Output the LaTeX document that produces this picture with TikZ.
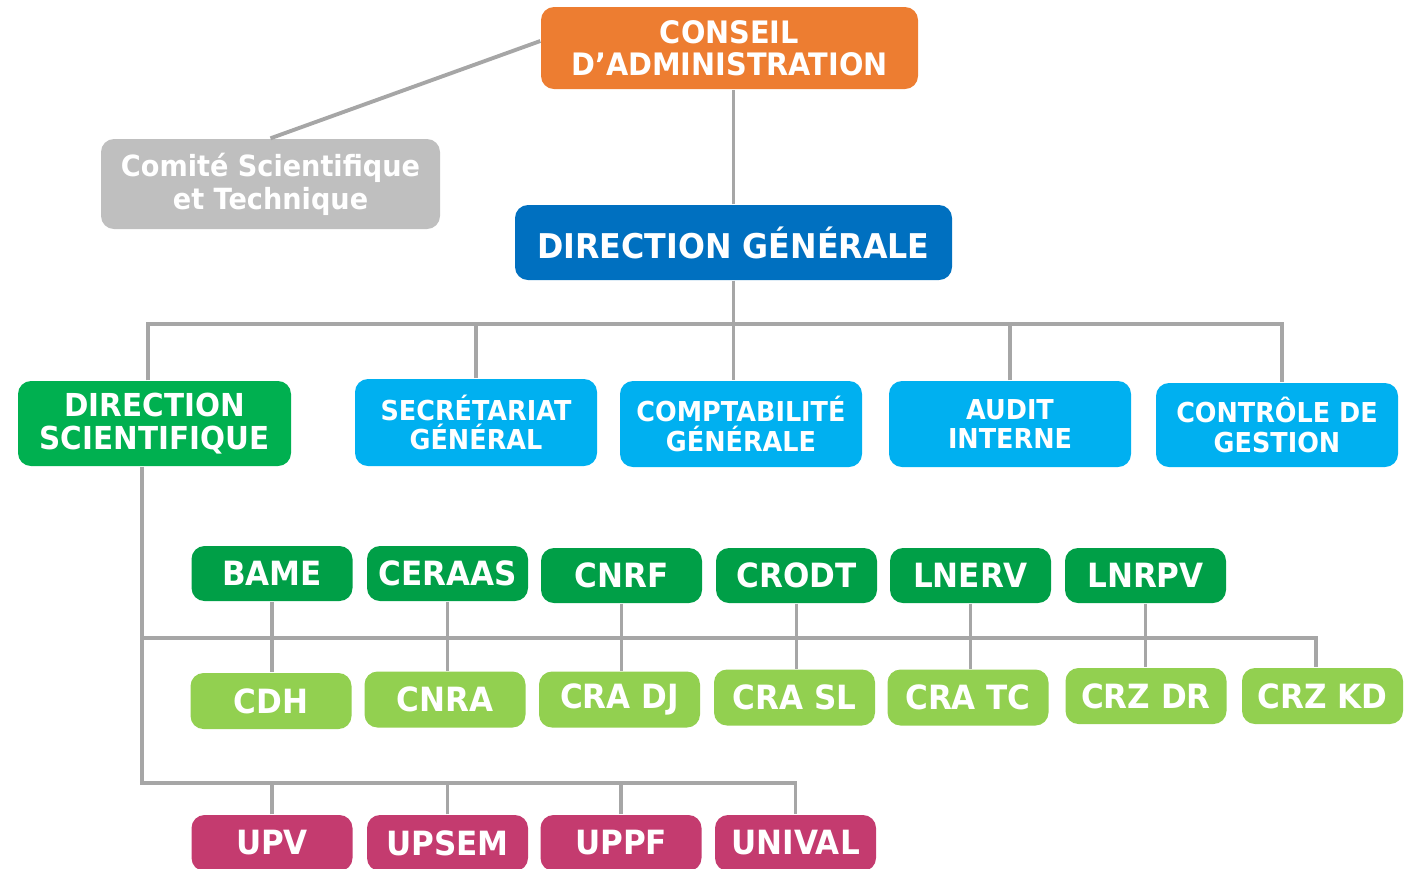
\documentclass[tikz,border=0pt]{standalone}
\usepackage{fontspec}
\setmainfont{DejaVu Sans}[FakeStretch=0.93]
\definecolor{conseil}{HTML}{ED7D31}
\definecolor{comite}{HTML}{BFBFBF}
\definecolor{dirgen}{HTML}{0070C0}
\definecolor{dirsci}{HTML}{00B050}
\definecolor{service}{HTML}{00B0F0}
\definecolor{centre}{HTML}{009F47}
\definecolor{antenne}{HTML}{92D050}
\definecolor{unite}{HTML}{C43B6F}
\definecolor{trait}{HTML}{A6A6A6}
\tikzset{box/.style={rounded corners=1.3mm, text=white, align=center, inner sep=0pt},
  link/.style={draw=trait, line width=1.1pt},
  unitbox/.style={box, minimum width=1.61cm, minimum height=.56cm, font=\bfseries\fontsize{9.5}{10}\selectfont}}

\begin{document}
\begin{tikzpicture}
      \useasboundingbox (0,0) rectangle (14.15,-8.68);
      % top
      \node[box, fill=conseil, minimum width=3.77cm, minimum height=.82cm, font=\bfseries\fontsize{8.8}{9.1}\selectfont] (ca) at (7.295,-.48) {CONSEIL\\D’ADMINISTRATION};
      \node[box, fill=comite, minimum width=3.39cm, minimum height=.90cm, font=\bfseries\fontsize{8.3}{9.4}\selectfont] (cst) at (2.705,-1.84) {Comité Scientifique\\et Technique};
      \node[box, fill=dirgen, minimum width=4.37cm, minimum height=.75cm, font=\bfseries\fontsize{9.7}{10}\selectfont] (dg) at (7.335,-2.425) {DIRECTION GÉNÉRALE};
      % directions
      \node[box, fill=dirsci, minimum width=2.73cm, minimum height=.85cm, font=\bfseries\fontsize{9}{9.4}\selectfont] (ds) at (1.545,-4.235) {DIRECTION\\SCIENTIFIQUE};
      \node[box, fill=service, minimum width=2.42cm, minimum height=.87cm, font=\bfseries\fontsize{7.8}{8.3}\selectfont] (sg) at (4.76,-4.225) {SECRÉTARIAT\\GÉNÉRAL};
      \node[box, fill=service, minimum width=2.42cm, minimum height=.86cm, font=\bfseries\fontsize{7.8}{8.3}\selectfont] (cg) at (7.41,-4.24) {COMPTABILITÉ\\GÉNÉRALE};
      \node[box, fill=service, minimum width=2.42cm, minimum height=.86cm, font=\bfseries\fontsize{7.8}{8.3}\selectfont] (ai) at (10.10,-4.24) {AUDIT\\INTERNE};
      \node[box, fill=service, minimum width=2.42cm, minimum height=.84cm, font=\bfseries\fontsize{7.8}{8.3}\selectfont] (cdg) at (12.77,-4.25) {CONTRÔLE DE\\GESTION};
      % centres
      \node[unitbox, fill=centre, minimum height=.55cm] (bame) at (2.72,-5.735) {BAME};
      \node[unitbox, fill=centre, minimum height=.55cm] (ceraas) at (4.475,-5.735) {CERAAS};
      \node[unitbox, fill=centre, minimum height=.55cm] (cnrf) at (6.215,-5.755) {CNRF};
      \node[unitbox, fill=centre, minimum height=.55cm] (crodt) at (7.965,-5.755) {CRODT};
      \node[unitbox, fill=centre, minimum height=.55cm] (lnerv) at (9.705,-5.755) {LNERV};
      \node[unitbox, fill=centre, minimum height=.55cm] (lnrpv) at (11.455,-5.755) {LNRPV};
      % antennes
      \node[unitbox, fill=antenne] (cdh) at (2.71,-7.01) {CDH};
      \node[unitbox, fill=antenne] (cnra) at (4.45,-6.995) {CNRA};
      \node[unitbox, fill=antenne] (cradj) at (6.195,-6.995) {CRA DJ};
      \node[unitbox, fill=antenne] (crasl) at (7.945,-6.975) {CRA SL};
      \node[unitbox, fill=antenne] (cratc) at (9.68,-6.975) {CRA TC};
      \node[unitbox, fill=antenne] (crzdr) at (11.46,-6.96) {CRZ DR};
      \node[unitbox, fill=antenne] (crzkd) at (13.225,-6.96) {CRZ KD};
      % unites
      \node[unitbox, fill=unite] (upv) at (2.72,-8.43) {UPV};
      \node[unitbox, fill=unite] (upsem) at (4.475,-8.43) {UPSEM};
      \node[unitbox, fill=unite] (uppf) at (6.21,-8.43) {UPPF};
      \node[unitbox, fill=unite] (unival) at (7.955,-8.43) {UNIVAL};
      % lines
      \draw[link] (cst.north) -- ([yshift=.07cm]ca.west);
      \draw[link] (dg.north) -- (dg.north |- ca.south);
      \draw[link] (dg.south) -- ++(0,-.43) coordinate (hub);
      \coordinate (dsn) at ([xshift=-.065cm]ds.north);
      \coordinate (cdgn) at ([xshift=.05cm]cdg.north);
      \draw[link] (dsn) |- (hub) -| (cdgn);
      \draw[link] (hub) -- (hub |- cg.north);
      \foreach \n in {sg, ai}
        \draw[link] (\n.north) -- (\n.north |- hub);
      % scientific branch
      \coordinate (spine) at ([xshift=-.125cm]ds.south);
      \coordinate (kd) at ([xshift=-.065cm]crzkd.north);
      \draw[link] (spine) -- (spine |- 0,-7.83) -| (unival.north);
      \draw[link] (spine |- 0,-6.38) -| (kd);
      \foreach \n in {upv, upsem, uppf}
        \draw[link] (\n.north) -- (\n.north |- 0,-7.83);
      \foreach \a/\b in {bame/cdh, ceraas/cnra, cnrf/cradj, crodt/crasl, lnerv/cratc, lnrpv/crzdr}
        \draw[link] (\a.south) -- (\a.south |- \b.north);
\end{tikzpicture}
\end{document}
